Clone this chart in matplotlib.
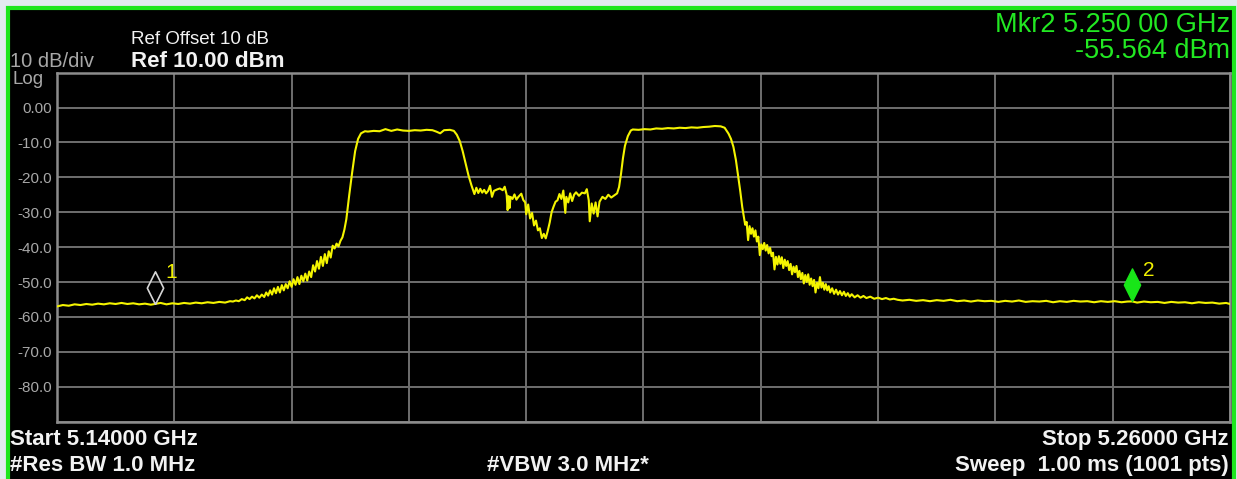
import numpy as np
import matplotlib.pyplot as plt
from matplotlib.patches import Rectangle

plt.rcParams['font.family'] = ['Liberation Sans', 'DejaVu Sans']

W, H = 1237, 479

start_ghz = 5.14
stop_ghz = 5.26

# trace, split in pieces: offset from start freq (MHz) and level (dBm)
floor_l_mhz = [0.0, 0.6, 1.2, 1.8, 2.4, 3.0, 3.6, 4.2, 4.8, 5.4, 6.0, 6.6, 7.2, 7.8, 8.4,
               9.0, 9.6, 10.0, 10.6, 11.2, 11.8, 12.4, 13.0, 13.6, 14.2, 14.8, 15.4, 16.0,
               16.6, 17.2, 17.7]
floor_l_dbm = [-57.0, -56.6, -56.8, -56.4, -56.6, -56.3, -56.5, -56.2, -56.4, -56.1, -56.3,
               -56.0, -56.3, -56.1, -56.4, -56.2, -56.5, -56.3, -56.0, -56.4, -56.1, -56.3,
               -56.0, -56.2, -55.9, -56.1, -55.8, -56.0, -55.7, -55.9, -55.5]

skirt_l_mhz = [18.0, 18.3, 18.6, 18.9, 19.2, 19.45, 19.7, 19.95, 20.2, 20.45, 20.7, 20.95,
               21.2, 21.4, 21.6, 21.8, 22.0, 22.2, 22.4, 22.6, 22.8, 23.0, 23.2, 23.4, 23.6,
               23.8, 24.0, 24.2, 24.4, 24.6, 24.8, 25.0, 25.2, 25.4, 25.6, 25.8, 26.0, 26.2,
               26.4, 26.6, 26.8, 27.0, 27.2, 27.4, 27.6, 27.8, 28.0, 28.2, 28.4, 28.6, 28.8,
               29.0, 29.2, 29.4, 29.6, 29.9, 30.2, 30.5, 30.8, 31.1]
skirt_l_dbm = [-55.6, -55.3, -55.5, -54.9, -55.2, -54.4, -54.9, -54.2, -54.7, -53.8, -54.5,
               -53.6, -54.3, -53.0, -53.9, -52.4, -53.6, -51.8, -53.2, -51.4, -53.0, -50.9,
               -52.4, -50.6, -51.8, -49.8, -51.4, -49.2, -50.8, -48.6, -50.6, -48.2, -49.8,
               -47.6, -49.6, -47.0, -48.6, -45.2, -47.0, -44.0, -46.2, -42.8, -45.4, -42.0,
               -44.6, -41.2, -43.0, -39.6, -40.4, -39.0, -39.8, -38.2, -37.2, -35.0, -32.0,
               -25.0, -18.5, -12.5, -9.0, -7.4]

chan1_mhz = [31.5, 31.8, 32.4, 33.0, 33.6, 34.2, 34.8, 35.4, 36.0, 36.6, 37.2, 37.8, 38.4,
             38.8, 39.2, 39.6, 40.2, 40.6]
chan1_dbm = [-6.8, -6.9, -6.7, -6.8, -6.2, -6.7, -6.3, -6.6, -6.7, -6.5, -6.6, -6.4, -6.5,
             -6.9, -7.4, -6.5, -6.4, -6.7]

gap_mhz = [40.9, 41.2, 41.5, 41.8, 42.1, 42.4, 42.7, 42.9, 43.1, 43.3, 43.5, 43.7, 43.9, 44.1,
           44.3, 44.5, 44.7, 45.0, 45.3, 45.6, 45.8, 46.0, 46.1, 46.2, 46.3, 46.4, 46.6, 46.8,
           47.0, 47.2, 47.5, 47.7, 47.9, 48.0, 48.2, 48.4, 48.6, 48.8, 49.0, 49.2, 49.4, 49.6,
           49.8, 50.0, 50.2, 50.4, 50.6, 50.8, 51.0, 51.2, 51.4, 51.6, 51.8, 52.0, 52.1, 52.3,
           52.5, 52.7, 52.9, 53.1, 53.4, 53.7, 54.0, 54.2, 54.4, 54.5, 54.7, 54.9, 55.1, 55.3,
           55.5, 55.8, 56.1, 56.4, 56.7, 57.0, 57.3, 57.5, 57.7, 57.9, 58.1, 58.4]
gap_dbm = [-7.8, -9.6, -12.5, -16.0, -19.5, -22.3, -24.8, -23.0, -24.5, -23.3, -24.4, -23.6,
           -24.6, -23.9, -22.4, -25.6, -23.9, -23.5, -23.2, -23.7, -22.7, -25.0, -29.4, -25.4,
           -28.8, -25.6, -26.2, -24.9, -26.4, -25.6, -24.7, -26.5, -27.2, -30.6, -27.8, -31.8,
           -30.2, -33.8, -32.4, -35.2, -34.6, -37.4, -36.2, -37.5, -35.4, -33.0, -30.0, -28.4,
           -27.0, -26.6, -24.8, -26.2, -23.8, -30.2, -25.6, -27.2, -24.6, -26.8, -25.0, -24.3,
           -25.3, -24.4, -24.6, -23.4, -26.6, -32.6, -27.5, -30.4, -27.2, -31.2, -27.0, -25.6,
           -26.2, -25.0, -25.8, -25.2, -24.6, -22.8, -19.0, -14.5, -11.0, -8.2]

chan2_mhz = [58.7, 58.9, 59.5, 60.1, 60.7, 61.3, 61.9, 62.5, 63.1, 63.7, 64.3, 64.9, 65.5,
             66.1, 66.7, 67.3, 67.9, 68.3]
chan2_dbm = [-6.6, -6.3, -6.4, -6.2, -6.3, -6.0, -6.1, -5.9, -6.0, -5.8, -5.9, -5.7, -5.8,
             -5.6, -5.5, -5.3, -5.4, -5.8]

skirt_r_mhz = [68.7, 68.95, 69.2, 69.45, 69.7, 69.9, 70.1, 70.25, 70.4, 70.55, 70.7, 70.85,
               71.0, 71.15, 71.3, 71.45, 71.6, 71.75, 71.9, 72.05, 72.2, 72.35, 72.5, 72.65,
               72.8, 72.95, 73.1, 73.25, 73.4, 73.55, 73.7, 73.85, 74.0, 74.15, 74.3, 74.45,
               74.6, 74.75, 74.9, 75.05, 75.2, 75.35, 75.5, 75.65, 75.8, 75.95, 76.1, 76.25,
               76.4, 76.55, 76.7, 76.85, 77.0, 77.15, 77.3, 77.45, 77.6, 77.75, 77.9, 78.05,
               78.2, 78.35, 78.5, 78.65, 78.8, 78.95, 79.1, 79.3, 79.5, 79.7, 79.9, 80.1,
               80.3, 80.5, 80.7, 80.9, 81.1, 81.3, 81.6, 81.9, 82.2, 82.5, 82.8, 83.2, 83.6,
               84.0, 84.4, 84.8, 85.2, 85.6, 86.0]
skirt_r_dbm = [-7.5, -9.0, -11.3, -15.0, -20.0, -24.0, -28.5, -31.0, -33.6, -32.8, -38.0,
               -34.0, -36.2, -34.6, -37.0, -35.2, -38.4, -37.0, -42.3, -39.2, -40.6, -38.8,
               -41.0, -39.4, -41.8, -40.2, -42.6, -41.6, -46.4, -42.8, -45.0, -42.6, -44.8,
               -42.9, -46.0, -43.6, -45.4, -44.0, -46.6, -44.8, -47.8, -45.6, -47.2, -45.4,
               -48.6, -46.8, -49.2, -47.4, -50.4, -48.0, -50.0, -47.8, -50.8, -49.0, -51.2,
               -49.4, -53.0, -50.2, -51.8, -48.6, -51.6, -50.2, -52.2, -50.6, -52.4, -51.2,
               -53.0, -51.8, -53.4, -52.2, -53.6, -52.6, -53.8, -52.8, -54.0, -53.2, -54.2,
               -53.5, -54.4, -53.8, -54.5, -54.0, -54.6, -54.2, -54.8, -54.5, -54.9, -54.6,
               -55.0, -54.8, -55.1]

floor_r_mhz = [86.5, 87.2, 87.9, 88.6, 89.3, 90.0, 90.7, 91.4, 92.1, 92.8, 93.5, 94.2, 94.9,
               95.6, 96.3, 97.0, 97.7, 98.4, 99.1, 99.8, 100.5, 101.2, 101.9, 102.6, 103.3,
               104.0, 104.7, 105.4, 106.1, 106.8, 107.5, 108.2, 108.9, 109.5, 110.0, 110.5,
               111.2, 111.9, 112.6, 113.3, 114.0, 114.7, 115.4, 116.1, 116.8, 117.5, 118.2,
               118.9, 119.6, 120.0]
floor_r_dbm = [-55.3, -55.1, -55.4, -55.2, -55.5, -55.2, -55.4, -55.1, -55.5, -55.3, -55.6,
               -55.3, -55.5, -55.4, -55.7, -55.4, -55.6, -55.3, -55.7, -55.5, -55.6, -55.4,
               -55.8, -55.5, -55.7, -55.4, -55.6, -55.5, -55.8, -55.5, -55.7, -55.5, -55.8,
               -55.6, -55.564, -55.9, -55.6, -55.8, -55.7, -56.0, -55.7, -55.9, -55.8, -56.1,
               -55.8, -56.0, -55.9, -56.2, -56.0, -56.3]

# markers
mkr_ghz = [5.150, 5.250]
mkr_dbm = [-56.3, -55.564]

ytick_vals = [10, 0, -10, -20, -30, -40, -50, -60, -70, -80, -90]
ytick_text = ['', '0.00', '-10.0', '-20.0', '-30.0', '-40.0', '-50.0', '-60.0', '-70.0', '-80.0', '']

off = np.concatenate([floor_l_mhz, skirt_l_mhz, chan1_mhz, gap_mhz, chan2_mhz, skirt_r_mhz, floor_r_mhz])
lvl = np.concatenate([floor_l_dbm, skirt_l_dbm, chan1_dbm, gap_dbm, chan2_dbm, skirt_r_dbm, floor_r_dbm])
freq = start_ghz + off / 1000.0

fig = plt.figure(figsize=(W / 100, H / 100), dpi=100, facecolor='#e3eaf0')

# black screen with the green frame
screen = Rectangle((8 / W, -0.1), (1234 - 8) / W, 1.1 - 8 / H, transform=fig.transFigure,
                   facecolor='black', edgecolor='#1ee61e', linewidth=3.0, zorder=0)
fig.add_artist(screen)

ax = fig.add_axes([57 / W, 1 - 421.6 / H, (1230 - 57) / W, (421.6 - 72.6) / H])
ax.set_facecolor('black')
ax.set_xlim(start_ghz, stop_ghz)
ax.set_ylim(-90, 10)
ax.set_xticks(np.linspace(start_ghz, stop_ghz, 11))
ax.set_xticklabels([])
ax.set_yticks(ytick_vals)
ax.set_yticklabels(ytick_text)
ax.tick_params(length=0, labelcolor='#a8a8a8', labelsize=11, pad=3.6)
ax.grid(True, color='#6e6e6e', linewidth=1.4)
for sp in ax.spines.values():
    sp.set_color('#8c8c8c')
    sp.set_linewidth(1.8)

ax.plot(freq, lvl, color='#f4f400', linewidth=1.5, zorder=3)

diamond = [(0, 0), (-0.5, 1), (0, 2), (0.5, 1), (0, 0)]
ax.plot(mkr_ghz[0], mkr_dbm[0], marker=diamond, markersize=47, mfc='none', mec='#d6d6d6',
        mew=1.2, ls='none', zorder=4)
ax.plot(mkr_ghz[1], mkr_dbm[1], marker=diamond, markersize=47, mfc='#18e618', mec='#18e618',
        mew=1.0, ls='none', zorder=4)
for i, (fx, ly) in enumerate(zip(mkr_ghz, mkr_dbm)):
    ax.annotate(str(i + 1), xy=(fx, ly), xytext=(8, 18.5), textcoords='offset points',
                color='#f0f000', fontsize=15, ha='left', va='baseline', zorder=5)


def label(x, y, s, **kw):
    fig.text(x / W, 1 - y / H, s, va='baseline', **kw)


label(131, 44, 'Ref Offset 10 dB', color='#f2f2f2', fontsize=13.5)
label(131, 67, 'Ref 10.00 dBm', color='#f2f2f2', fontsize=16, fontweight='bold')
label(10, 67, '10 dB/div', color='#a8a8a8', fontsize=14.5)
label(12, 84, 'Log', color='#a8a8a8', fontsize=13.5)

label(1230, 32, 'Mkr2 5.250 00 GHz', color='#22e822', fontsize=19.5, ha='right')
label(1230, 58, '-55.564 dBm', color='#22e822', fontsize=19.5, ha='right')

label(10, 445, 'Start 5.14000 GHz', color='#f2f2f2', fontsize=16, fontweight='bold')
label(10, 471, '#Res BW 1.0 MHz', color='#f2f2f2', fontsize=16, fontweight='bold')
label(568, 471, '#VBW 3.0 MHz*', color='#f2f2f2', fontsize=16, fontweight='bold', ha='center')
label(1229, 445, 'Stop 5.26000 GHz', color='#f2f2f2', fontsize=16, fontweight='bold', ha='right')
label(1229, 471, 'Sweep  1.00 ms (1001 pts)', color='#f2f2f2', fontsize=16, fontweight='bold',
      ha='right')

fig.savefig('out.png', dpi=100, facecolor=fig.get_facecolor())
